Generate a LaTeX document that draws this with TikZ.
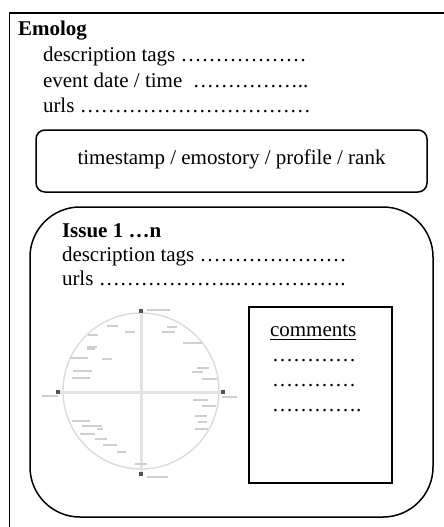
\documentclass[tikz,border=0pt]{standalone}
\usepackage{fontspec}
\setmainfont{Liberation Serif}
\def\elli{…}
\begin{document}
\begin{tikzpicture}[x=1pt,y=-1pt,
  txt/.style={inner sep=0pt, outer sep=0pt, anchor=base west, font=\fontsize{21}{25}\selectfont},
  ctxt/.style={inner sep=0pt, outer sep=0pt, anchor=base, font=\fontsize{21}{25}\selectfont},
  frame/.style={line width=1.6pt, black},
  box/.style={line width=1.5pt, black},
  axis/.style={line width=3pt, gray!22},
  ring/.style={line width=1.4pt, gray!28},
  marker/.style={fill=gray!65!black},
  lbl/.style={line width=1.6pt, gray!38}]
\useasboundingbox (0,0) rectangle (444,527);
% outer frame (cut off at right and bottom)
\draw[frame] (444,13) -- (9.5,13) -- (9.5,527);
% Emolog header
\node[txt] (emolog) at (18,36) {\textbf{Emolog}};
\node[txt] (d1) at (43,62) {description tags \elli\elli\elli\elli\elli\elli};
\node[txt] (d2) at (43,87) {event date / time\ \ \elli\elli\elli\elli\elli..};
\node[txt] (d3) at (43,112) {urls \elli\elli\elli\elli\elli\elli\elli\elli\elli\elli\elli};
% timestamp box
\draw[box, rounded corners=9pt] (36,130) rectangle (427,192);
\node[ctxt] (ts) at (231.5,164) {timestamp / emostory / profile / rank};
% issue box
\draw[box, rounded corners=50pt] (30,207) rectangle (433,517);
\node[txt] (iss) at (62,237) {\textbf{Issue 1 \elli n}};
\node[txt] (i1) at (62,261) {description tags \elli\elli\elli\elli\elli\elli\elli};
\node[txt] (i2) at (62,285) {urls \elli\elli\elli\elli\elli\elli..\elli\elli\elli\elli\elli.};
% comments box
\draw[line width=1.8pt] (249,307) rectangle (392,483);
\node[txt] (cm) at (270,336) {comments};
\draw[line width=0.9pt] (cm.base west) ++(0,3) -- ++(86,0);
\node[txt] (c1) at (272,361) {\elli\elli\elli\elli};
\node[txt] (c2) at (272,386) {\elli\elli\elli\elli};
\node[txt] (c3) at (272,411) {\elli\elli\elli\elli.};
% circumplex figure
\draw[ring] (141,391) circle[radius=78pt];
\draw[axis] (141,311) -- (141,474);
\draw[axis] (58,392) -- (223,392);
\fill[marker] (139,309) rectangle (143,313);
\fill[marker] (139,472) rectangle (143,476);
\fill[marker] (56,390) rectangle (60,394);
\fill[marker] (221,390) rectangle (225,394);
% tiny unreadable labels
\foreach \a/\b/\y in {147/170/310, 107/118/326, 125/135/332, 167/177/327, 162/175/332,
  88/98/335, 183/202/343, 87/97/347, 87/95/349, 70/88/358, 102/112/359, 73/92/371,
  72/90/378, 42/58/396, 197/209/368, 192/203/372, 202/217/379, 222/237/397,
  193/208/400, 202/216/406, 195/207/416, 198/207/422, 195/208/429, 72/90/421,
  82/102/426, 97/103/429, 80/95/434, 95/107/439, 103/117/445, 117/126/452,
  135/147/464, 147/168/477}
  \draw[lbl] (\a,\y) -- (\b,\y);
\end{tikzpicture}
\end{document}
